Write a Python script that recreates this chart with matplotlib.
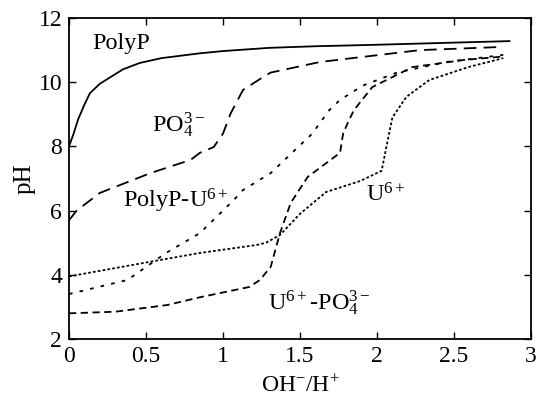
import matplotlib
matplotlib.use("Agg")
import matplotlib.pyplot as plt

plt.rcParams['font.family'] = ['Liberation Serif', 'DejaVu Serif']
plt.rcParams['mathtext.fontset'] = 'custom'
plt.rcParams['mathtext.rm'] = 'Liberation Serif'
plt.rcParams['mathtext.it'] = 'Liberation Serif'

polyp_x = [0, 0.03, 0.06, 0.1, 0.136, 0.2, 0.27, 0.35, 0.46, 0.6, 0.85, 1.0, 1.3, 1.6, 1.95, 2.4, 2.86]
polyp_y = [8.0, 8.4, 8.85, 9.3, 9.66, 9.95, 10.16, 10.4, 10.6, 10.75, 10.9, 10.97, 11.07, 11.12, 11.16, 11.22, 11.28]

po4_x = [0, 0.05, 0.2, 0.53, 0.79, 0.85, 0.94, 1.0, 1.05, 1.13, 1.28, 1.31, 1.63, 2.28, 2.82]
po4_y = [5.7, 6.0, 6.55, 7.17, 7.58, 7.8, 7.98, 8.4, 9.03, 9.76, 10.22, 10.3, 10.63, 11.0, 11.1]

pu_x = [0, 0.38, 0.63, 0.85, 1.07, 1.13, 1.31, 1.58, 1.69, 1.76, 1.91, 2.13, 2.45, 2.82]
pu_y = [3.4, 3.84, 4.68, 5.3, 6.33, 6.64, 7.17, 8.4, 9.13, 9.45, 9.9, 10.3, 10.63, 10.85]

upo4_x = [0, 0.3, 0.64, 0.85, 1.17, 1.24, 1.31, 1.37, 1.44, 1.55, 1.76, 1.78, 1.81, 1.85, 1.97, 2.23, 2.56, 2.82]
upo4_y = [2.8, 2.85, 3.06, 3.3, 3.62, 3.84, 4.25, 5.3, 6.24, 7.05, 7.8, 8.4, 8.73, 9.13, 9.85, 10.47, 10.69, 10.8]

u_x = [0, 0.59, 0.85, 1.22, 1.28, 1.37, 1.5, 1.67, 1.89, 2.03, 2.07, 2.1, 2.19, 2.34, 2.6, 2.82]
u_y = [3.95, 4.46, 4.68, 4.93, 5.0, 5.24, 5.9, 6.58, 6.92, 7.24, 8.2, 8.9, 9.54, 10.07, 10.48, 10.75]

xticks = [0, 0.5, 1, 1.5, 2, 2.5, 3]
xticklabels = ['0', '0.5', '1', '1.5', '2', '2.5', '3']
yticks = [2, 4, 6, 8, 10, 12]

fig = plt.figure(figsize=(5.39, 4.04), dpi=100)
ax = fig.add_axes([69/539, 1 - 339/404, 462/539, 321/404])

lw = 1.3
ax.plot(polyp_x, polyp_y, color='black', lw=lw, linestyle='-')
ax.plot(po4_x, po4_y, color='black', lw=lw, linestyle=(0, (7, 4)))
ax.plot(pu_x, pu_y, color='black', lw=lw, linestyle=(0, (2, 4)))
ax.plot(upo4_x, upo4_y, color='black', lw=lw, linestyle=(0, (4, 2.5)))
ax.plot(u_x, u_y, color='black', lw=lw, linestyle=(0, (1.5, 1.2)))

ax.set_xlim(0, 3)
ax.set_ylim(2, 12)
ax.set_xticks(xticks)
ax.set_xticklabels(xticklabels)
ax.set_yticks(yticks)
ax.tick_params(direction='in', length=5, width=1, top=True, right=True, labelsize=17, pad=5)
for s in ax.spines.values():
    s.set_linewidth(1.3)

ax.set_xlabel(r'OH$^{-}$/H$^{+}$', fontsize=17, labelpad=6)
ax.set_ylabel('pH', fontsize=18, labelpad=2)

fs = 17.5
ax.text(0.15, 11.2, 'PolyP', fontsize=fs, va='center', ha='left')
ax.text(0.54, 8.65, r'PO$_{4}^{3-}$', fontsize=fs, va='center', ha='left')
ax.text(0.35, 6.3, r'PolyP-U$^{6+}$', fontsize=fs, va='center', ha='left')
ax.text(1.93, 6.5, r'U$^{6+}$', fontsize=fs, va='center', ha='left')
ax.text(1.29, 3.1, r'U$^{6+}$-PO$_{4}^{3-}$', fontsize=fs, va='center', ha='left')

fig.savefig('out.png', dpi=100)
